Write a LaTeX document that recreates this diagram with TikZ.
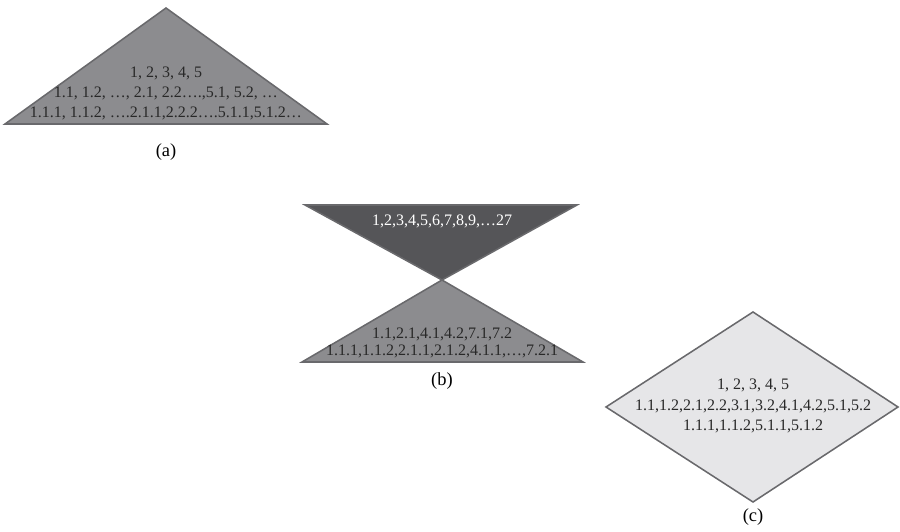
\documentclass[tikz,border=0pt]{standalone}
\usepackage{tikz}
\usepackage{fontspec}
\setmainfont{Liberation Serif}
\usetikzlibrary{positioning}
\definecolor{midgray}{RGB}{140,140,143}
\definecolor{darkgray}{RGB}{85,85,88}
\definecolor{lightgray}{RGB}{230,230,232}
\definecolor{edgegray}{RGB}{105,105,108}
\definecolor{textgray}{RGB}{40,40,40}

\begin{document}
\begin{tikzpicture}[
	x=0.65pt, y=-0.65pt,
	every node/.style={font=\fontsize{10.4}{13}\selectfont},
	tree/.style={draw=edgegray, line width=1pt, line join=miter},
	lbl/.style={align=center, text=textgray, inner sep=0pt},
	caption/.style={text=black, inner sep=0pt, font=\fontsize{12}{13}\selectfont}]
	\useasboundingbox (0,0) rectangle (900,532);
	%% (a) single tree
	\path [tree, fill=midgray] (166,8) -- (327,124) -- (5,124) -- cycle;
	\node [lbl, anchor=base] at (166,78) (A1) {1, 2, 3, 4, 5};
	\node [lbl, anchor=base] at (166,98) (A2) {1.1, 1.2, …, 2.1, 2.2….,5.1, 5.2, …};
	\node [lbl, anchor=base] at (166,118) (A3) {1.1.1, 1.1.2, ….2.1.1,2.2.2….5.1.1,5.1.2…};
	\node [caption] at (166,152) (capA) {(a)};
	%% (b) hourglass
	\path [tree, fill=darkgray] (305,205) -- (577,205) -- (442,280) -- cycle;
	\path [tree, fill=midgray] (442,280) -- (583,362) -- (302,362) -- cycle;
	\node [lbl, text=white, anchor=base] at (442,226) (B1) {1,2,3,4,5,6,7,8,9,…27};
	\node [lbl, anchor=base] at (442,339) (B2) {1.1,2.1,4.1,4.2,7.1,7.2};
	\node [lbl, anchor=base] at (442,356) (B3) {1.1.1,1.1.2,2.1.1,2.1.2,4.1.1,…,7.2.1};
	\node [caption] at (442,381) (capB) {(b)};
	%% (c) diamond
	\path [tree, fill=lightgray] (753,312) -- (898,407) -- (753,502) -- (606,407) -- cycle;
	\node [lbl, anchor=base] at (753,390) (C1) {1, 2, 3, 4, 5};
	\node [lbl, anchor=base] at (753,411) (C2) {1.1,1.2,2.1,2.2,3.1,3.2,4.1,4.2,5.1,5.2};
	\node [lbl, anchor=base] at (753,431) (C3) {1.1.1,1.1.2,5.1.1,5.1.2};
	\node [caption] at (753,517) (capC) {(c)};
\end{tikzpicture}
\end{document}
